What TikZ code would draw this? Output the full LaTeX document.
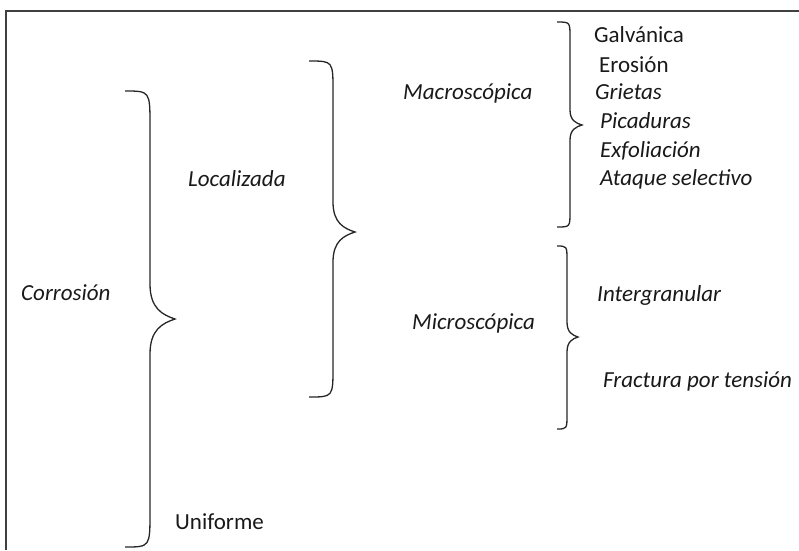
\documentclass[tikz,border=0pt]{standalone}
\usepackage{fontspec}
\setmainfont{Carlito}
\begin{document}
\begin{tikzpicture}[
    x=1pt, y=-1pt,
    corrFrameStyle/.style={black!75, line width=1.5pt},
    corrBraceStyle/.style={black!85, line width=1.3pt},
    corrTextStyle/.style={anchor=base west, inner sep=0pt, text=black!90,
        font=\fontsize{23}{27}\selectfont},
    corrItalicStyle/.style={corrTextStyle, font=\fontsize{23}{27}\selectfont\itshape}
]
    \useasboundingbox (0,0) rectangle (799,550);

    % 边框
    \draw[corrFrameStyle] (6,550) -- (6,11) -- (799,11);

    % 括号
    \foreach \xe/\yt/\xv/\xp/\yp/\yb/\r in {125/91/150/175/319/547/35,
        309/61/333/355/232/397/30, 557/22/570/582/125/227/15,
        557/246/567/578/337/429/15} {
        \draw[corrBraceStyle]
            (\xe,\yt) .. controls (\xv,\yt) .. (\xv,{\yt+\r})
            -- (\xv,{\yp-\r})
            .. controls (\xv,{\yp-0.3*\r}) and ({(\xv+\xp)/2},{\yp-0.12*\r}) .. (\xp,\yp)
            .. controls ({(\xv+\xp)/2},{\yp+0.12*\r}) and (\xv,{\yp+0.3*\r}) .. (\xv,{\yp+\r})
            -- (\xv,{\yb-\r}) .. controls (\xv,\yb) .. (\xe,\yb);
    }

    % 第一级
    \node[corrItalicStyle] (corrosion) at (21,300) {Corrosión};

    % 第二级
    \node[corrItalicStyle] (localizada) at (188,186) {Localizada};
    \node[corrTextStyle] (uniforme) at (175,529) {Uniforme};

    % 第三级
    \node[corrItalicStyle] (macro) at (403,99) {Macroscópica};
    \node[corrItalicStyle] (micro) at (412,329) {Microscópica};

    % 类型
    \node[corrTextStyle] (galvanica) at (594,42) {Galvánica};
    \node[corrTextStyle] (erosion) at (599,72) {Erosión};
    \node[corrItalicStyle] (grietas) at (595,99) {Grietas};
    \node[corrItalicStyle] (picaduras) at (600,128) {Picaduras};
    \node[corrItalicStyle] (exfoliacion) at (600,157) {Exfoliación};
    \node[corrItalicStyle] (ataque) at (600,185) {Ataque selectivo};
    \node[corrItalicStyle] (intergranular) at (597,301) {Intergranular};
    \node[corrItalicStyle] (fractura) at (603,387) {Fractura por tensión};
\end{tikzpicture}
\end{document}
